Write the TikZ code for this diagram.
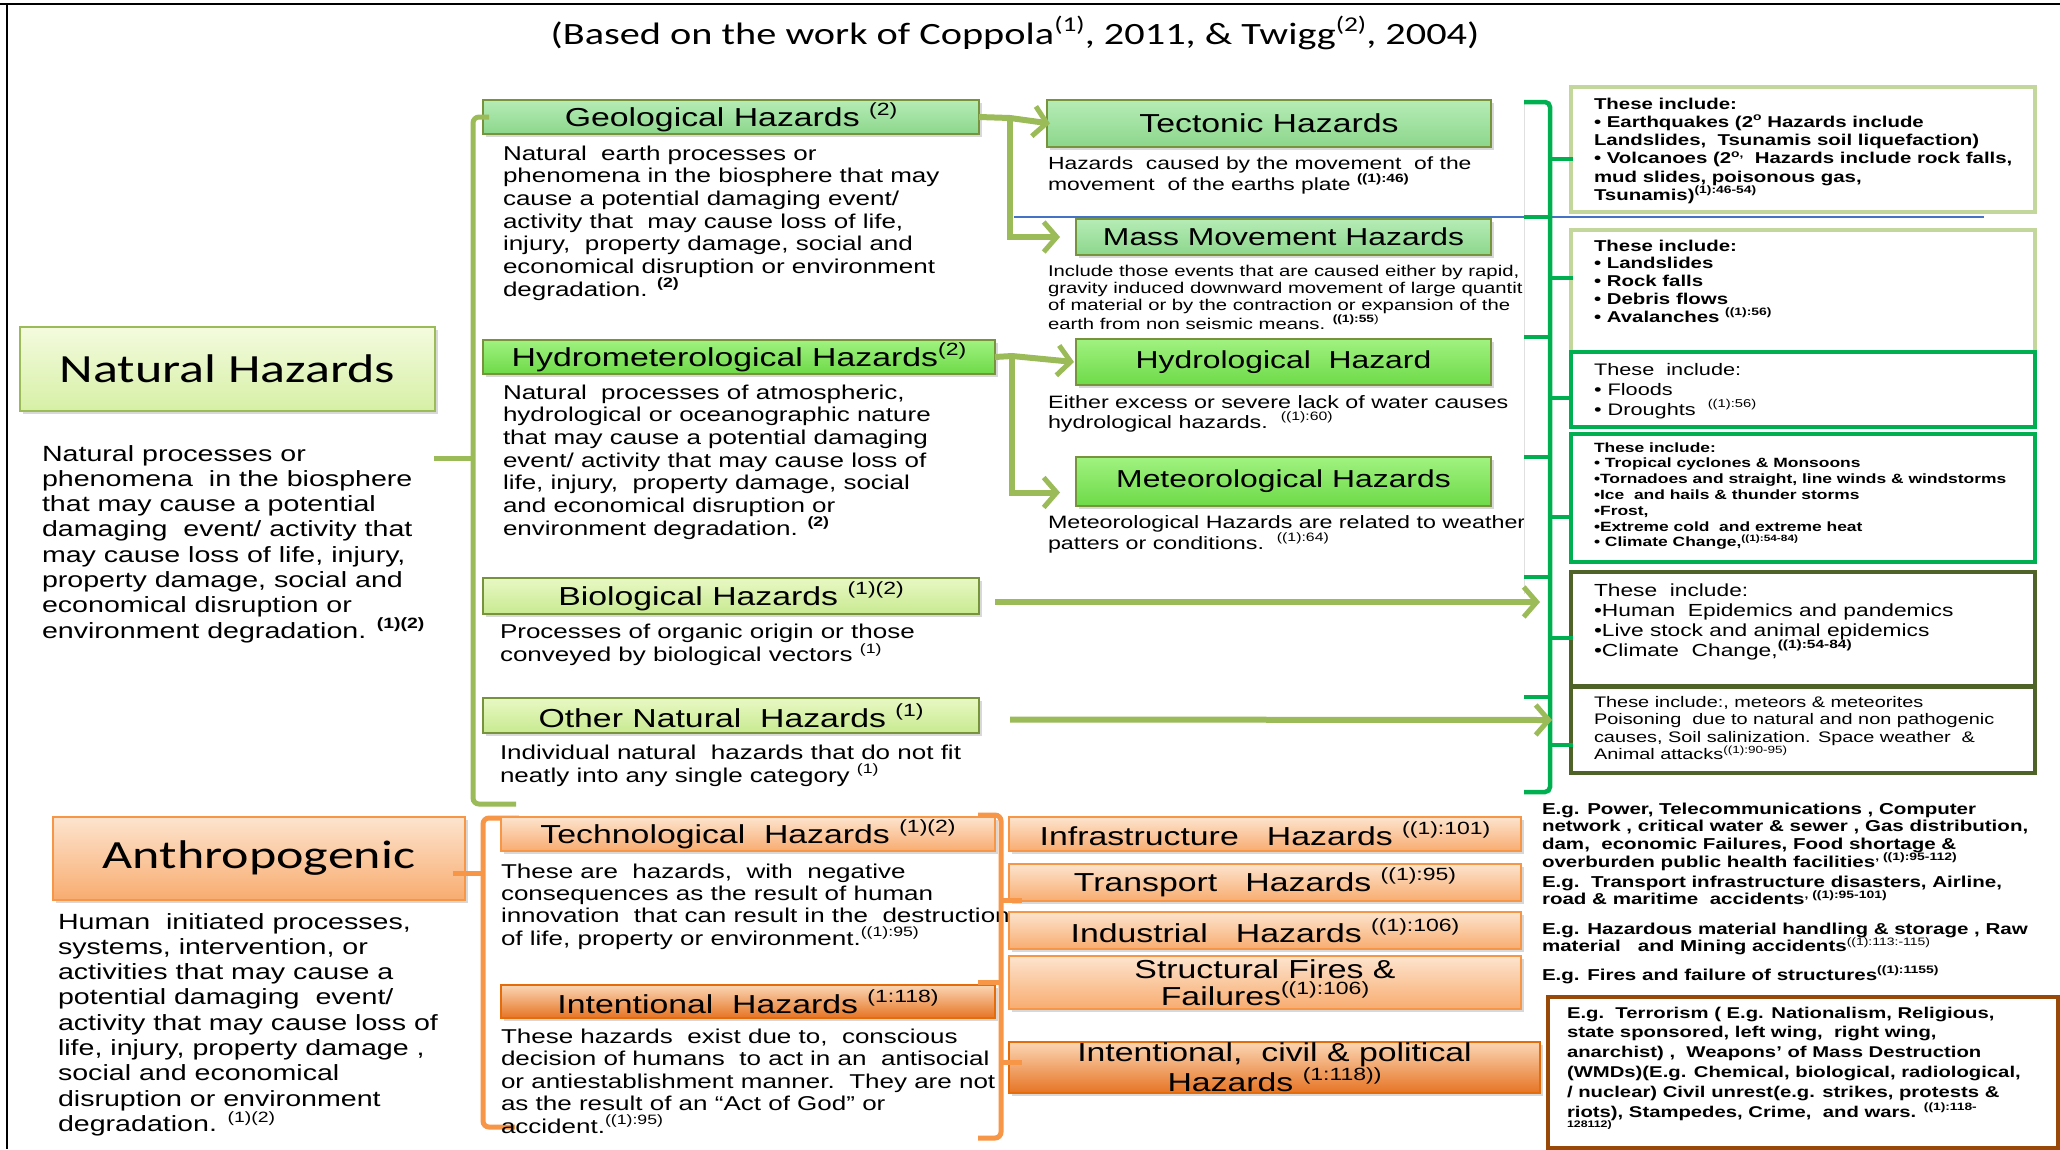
\documentclass[tikz,border=0pt]{standalone}
\usepackage{fontspec}
\setmainfont{Liberation Sans}[FakeStretch=1.3]
\newfontfamily\calib{Carlito}[FakeStretch=1.3]
\usepackage{graphicx}
\usetikzlibrary{arrows.meta,shadows}

\definecolor{olv}{HTML}{9BBB59}
\definecolor{olvdark}{HTML}{77933C}
\definecolor{brgreen}{HTML}{00B050}
\definecolor{darkolv}{HTML}{4F6228}
\definecolor{lightolv}{HTML}{C3D69B}
\definecolor{orng}{HTML}{F79646}
\definecolor{orngdark}{HTML}{E46C0A}
\definecolor{brownb}{HTML}{984807}
\definecolor{bluel}{HTML}{4472C4}

\newcommand\fz[2]{\fontsize{#1}{#2}\selectfont}
\newcommand\sps[1]{\raisebox{0.42em}{\scalebox{0.68}{#1}}}
\newcommand\para[1]{\parbox[t]{800pt}{\raggedright #1}}
\newcommand\bul{\textbullet}

\begin{document}
\begin{tikzpicture}[x=1pt,y=-1pt,
  box/.style={anchor=north west, inner sep=0pt, outer sep=0pt, line width=2.5pt, align=center,
    drop shadow={shadow xshift=3pt, shadow yshift=-3pt, opacity=0.3}},
  geobox/.style={box, draw=olvdark, top color={rgb,255:red,182;green,236;blue,182}, bottom color={rgb,255:red,140;green,214;blue,140}},
  hmbox/.style={box, draw=olvdark, top color={rgb,255:red,160;green,242;blue,128}, bottom color={rgb,255:red,110;green,218;blue,72}},
  biobox/.style={box, draw=olvdark, top color={rgb,255:red,232;green,248;blue,196}, bottom color={rgb,255:red,200;green,234;blue,144}},
  natbox/.style={box, draw=olv, top color={rgb,255:red,244;green,251;blue,222}, bottom color={rgb,255:red,214;green,240;blue,166}},
  obox/.style={box, draw=orng, top color={rgb,255:red,253;green,228;blue,206}, bottom color={rgb,255:red,248;green,172;blue,112}},
  odbox/.style={box, draw=orngdark, top color={rgb,255:red,251;green,214;blue,180}, bottom color={rgb,255:red,230;green,116;blue,36}},
  side/.style={anchor=north west, inner sep=0pt, outer sep=0pt, fill=white, line width=4.5pt, minimum width=464pt},
  desc/.style={anchor=base west, inner sep=0pt, outer sep=0pt},
  arr/.style={draw=olv, line width=6pt, -{Straight Barb[length=13pt,width=30pt,line width=5pt]}},
  brk/.style={draw=olv, line width=5pt, rounded corners=6pt},
  obrk/.style={draw=orng, line width=5pt, rounded corners=6pt},
  gbrk/.style={draw=brgreen, line width=4.5pt, rounded corners=5pt}
]
\useasboundingbox (0,0) rectangle (2060,1149);
\fill[white] (0,0) rectangle (2060,1149);

% outer frame
\draw[line width=2pt] (0,4) -- (2060,4);
\draw[line width=2pt] (7,4) -- (7,1149);

% heading
\node[font=\calib\fz{31}{34}] (title) at (1015,33)
  {(Based on the work of Coppola\sps{(1)}, 2011, \& Twigg\sps{(2)}, 2004)};

% ---------- natural hazards ----------
\node[natbox, minimum width=415pt, minimum height=84pt, font=\calib\fz{40}{44}] (nat) at (20,327) {Natural Hazards};
\node[desc, font=\fz{22}{25.3}] (natd) at (42,461) {\para{Natural processes or\\
phenomena\ \ in the biosphere\\
that may cause a potential\\
damaging\ \ event/ activity that\\
may cause loss of life, injury,\\
property damage, social and\\
economical disruption or\\
environment degradation. \sps{\bfseries (1)(2)}}};

% first level boxes
\node[geobox, minimum width=496pt, minimum height=34pt, font=\fz{26}{28}] (geo) at (483,100) {Geological Hazards \sps{(2)}};
\node[hmbox, minimum width=512pt, minimum height=34pt, font=\fz{26}{28}] (hm) at (483,340) {Hydrometerological Hazards\sps{(2)}};
\node[biobox, minimum width=496pt, minimum height=36pt, font=\fz{26}{28}] (bio) at (483,578) {Biological Hazards \sps{(1)(2)}};
\node[biobox, minimum width=496pt, minimum height=35pt, font=\fz{26}{28}] (oth) at (483,698) {Other Natural\ \ Hazards \sps{(1)}};

% bracket grouping the natural categories
\coordinate (nb) at (473,458);
\coordinate (nattick) at (434,458);
\draw[brk] ([xshift=6pt]geo.west) -| (nb) |- (516,804);
\draw[brk] (nattick) -- (nb);

\node[desc, font=\fz{20}{22.7}] (geod) at (503,160) {\para{Natural\ \ earth processes or\\
phenomena in the biosphere that may\\
cause a potential damaging event/\\
activity that\ \ may cause loss of life,\\
injury,\ \ property damage, social and\\
economical disruption or environment\\
degradation. \sps{\bfseries (2)}}};
\node[desc, font=\fz{20}{22.7}] (hmd) at (503,399) {\para{Natural\ \ processes of atmospheric,\\
hydrological or oceanographic nature\\
that may cause a potential damaging\\
event/ activity that may cause loss of\\
life, injury,\ \ property damage, social\\
and economical disruption or\\
environment degradation. \sps{\bfseries (2)}}};
\node[desc, font=\fz{20}{21.5}] (biod) at (500,638) {\para{Processes of organic origin or those\\
conveyed by biological vectors \sps{(1)}}};
\node[desc, font=\fz{20}{23}] (othd) at (500,759) {\para{Individual natural\ \ hazards that do not fit\\
neatly into any single category \sps{(1)}}};

% second level boxes
\node[geobox, minimum width=444pt, minimum height=47pt, font=\fz{26}{28}] (tec) at (1047,100) {Tectonic Hazards};
\node[geobox, minimum width=415pt, minimum height=36pt, font=\fz{24.5}{27}] (mass) at (1076,219) {Mass Movement Hazards};
\node[hmbox, minimum width=415pt, minimum height=46pt, font=\fz{24.5}{27}] (hydl) at (1076,339) {Hydrological\ \ Hazard};
\node[hmbox, minimum width=415pt, minimum height=49pt, font=\fz{24.5}{27}] (met) at (1076,457) {Meteorological Hazards};

\node[desc, font=\fz{17.6}{21}] (tecd) at (1048,169) {\para{Hazards\ \ caused by the movement\ \ of the\\
movement\ \ of the earths plate \sps{\bfseries ((1):46)}}};
\node[desc, font=\fz{15.6}{17.3}] (massd) at (1048,276) {\para{Include those events that are caused either by rapid,\\
gravity induced downward movement of large quantit\\
of material or by the contraction or expansion of the\\
earth from non seismic means. \sps{\bfseries ((1):55}\sps{)}}};
\node[desc, font=\fz{17.9}{20}] (hydld) at (1048,408) {\para{Either excess or severe lack of water causes\\
hydrological hazards.\ \ \sps{((1):60)}}};
\node[desc, font=\fz{17.9}{21}] (metd) at (1048,528) {\para{Meteorological Hazards are related to weather\\
patters or conditions.\ \ \sps{((1):64)}}};

% arrows from the first to the second level
\coordinate (gsplit) at (1010,118);
\coordinate (hsplit) at (1012,356);
\draw[arr] (geo.east) -- (gsplit) -- ([xshift=3pt]tec.west);
\draw[arr] (gsplit) |- ([xshift=-16pt]mass.west);
\draw[arr] (hm.east) -- (hsplit) -- ([xshift=-2pt]hydl.west);
\draw[arr] (hsplit) |- ([xshift=-16pt,yshift=-11pt]met.west);

% divider line
\draw[bluel, line width=1.2pt] (1014,217) -- (1984,217);
\draw[black!12, line width=1pt] (1524,102) -- (1524,594);

% example boxes
\node[side, draw=lightolv, minimum height=125pt] (s1) at (1571,87) {};
\node[side, draw=lightolv, minimum height=122pt] (s2) at (1571,230) {};
\node[side, draw=brgreen, minimum height=75pt] (s3) at (1571,352) {};
\node[side, draw=brgreen, minimum height=128pt] (s4) at (1571,434) {};
\node[side, draw=darkolv, minimum height=114pt] (s5) at (1571,572) {};
\node[side, draw=darkolv, minimum height=86pt] (s6) at (1571,687) {};

\node[desc, font=\bfseries\fz{15.7}{18.3}] (s1t) at (1594,109) {\para{These include:\\
\bul{} Earthquakes (2\sps{o} Hazards include\\
Landslides,\ \ Tsunamis soil liquefaction)\\
\bul{} Volcanoes (2\sps{o,}\ \ Hazards include rock falls,\\
mud slides, poisonous gas,\\
Tsunamis)\sps{(1):46-54)}}};
\node[desc, font=\bfseries\fz{15.7}{17.8}] (s2t) at (1594,251) {\para{These include:\\
\bul{} Landslides\\
\bul{} Rock falls\\
\bul{} Debris flows\\
\bul{} Avalanches \sps{((1):56)}}};
\node[desc, font=\fz{16.7}{20}] (s3t) at (1594,375) {\para{These\ \ include:\\
\bul{} Floods\\
\bul{} Droughts\ \ \sps{((1):56)}}};
\node[desc, font=\bfseries\fz{13.4}{15.8}] (s4t) at (1594,452) {\para{These include:\\
\bul{} Tropical cyclones \& Monsoons\\
\bul{}Tornadoes and straight, line winds \& windstorms\\
\bul{}Ice\ \ and hails \& thunder storms\\
\bul{}Frost,\\
\bul{}Extreme cold\ \ and extreme heat\\
\bul{} Climate Change,\sps{((1):54-84)}}};
\node[desc, font=\fz{17.5}{20}] (s5t) at (1594,596) {\para{These\ \ include:\\
\bul{}Human\ \ Epidemics and pandemics\\
\bul{}Live stock and animal epidemics\\
\bul{}Climate\ \ Change,\sps{\bfseries ((1):54-84)}}};
\node[desc, font=\fz{15.3}{17.5}] (s6t) at (1594,707) {\para{These include:, meteors \& meteorites\\
Poisoning\ \ due to natural and non pathogenic\\
causes, Soil salinization. Space weather\ \ \&\\
Animal attacks\sps{((1):90-95)}}};

% brace chain in front of the example boxes
\draw[gbrk] (1524,102) -- (1550,102) -- (1550,792) -- (1524,792);
\foreach \yy in {217,337,457,577,697} \draw[gbrk] (1524,\yy) -- (1550,\yy);
\foreach \yy in {159,278,398,517,638,745} \draw[gbrk] (1550,\yy) -- (1573,\yy);

% arrows of the categories without subdivisions
\coordinate (bioend) at (1540,602);
\coordinate (othend) at (1552,720);
\draw[arr] ([xshift=16pt,yshift=-6pt]bio.east) -- (bioend);
\draw[arr] ([xshift=31pt,yshift=-4pt]oth.east) -- (othend);

% ---------- anthropogenic hazards ----------
\node[obox, minimum width=412pt, minimum height=83pt, font=\calib\fz{40}{44}] (anth) at (53,817) {Anthropogenic};
\node[desc, font=\fz{22}{25.3}] (anthd) at (58,929) {\para{Human\ \ initiated processes,\\
systems, intervention, or\\
activities that may cause a\\
potential damaging\ \ event/\\
activity that may cause loss of\\
life, injury, property damage ,\\
social and economical\\
disruption or environment\\
degradation. \sps{(1)(2)}}};

\coordinate (ab) at (483,873);
\draw[obrk] (519,818) -| (ab) |- (515,1127);
\draw[obrk] ([xshift=-12pt]anth.east |- ab) -- (ab);

\node[obox, minimum width=494pt, minimum height=34pt, font=\fz{26}{28}] (tech) at (501,817) {Technological\ \ Hazards \sps{(1)(2)}};
\node[odbox, minimum width=494pt, minimum height=33pt, font=\fz{26}{28}] (intl) at (501,985) {Intentional\ \ Hazards \sps{(1:118)}};
\node[desc, font=\fz{20}{22.4}] (techd) at (501,878) {\para{These are\ \ hazards,\ \ with\ \ negative\\
consequences as the result of human\\
innovation\ \ that can result in the\ \ destruction\\
of life, property or environment.\sps{((1):95)}}};
\node[desc, font=\fz{20}{22.5}] (intld) at (501,1043) {\para{These hazards\ \ exist due to,\ \ conscious\\
decision of humans\ \ to act in an\ \ antisocial\\
or antiestablishment manner.\ \ They are not\\
as the result of an ``Act of God'' or\\
accident.\sps{((1):95)}}};

% brace pair leading to the sub-types
\draw[obrk] (978,815) -- (1001,815) -- (1001,1138) -- (978,1138);
\draw[obrk] (978,982) -- (1001,982);

\node[obox, minimum width=512pt, minimum height=34pt, font=\fz{26}{28}] (infra) at (1009,817) {Infrastructure\ \ \ Hazards \sps{((1):101)}};
\node[obox, minimum width=512pt, minimum height=37pt, font=\fz{26}{28}] (trans) at (1009,864) {Transport\ \ \ Hazards \sps{((1):95)}};
\node[obox, minimum width=512pt, minimum height=37pt, font=\fz{26}{28}] (indu) at (1009,912) {Industrial\ \ \ Hazards \sps{((1):106)}};
\node[obox, minimum width=512pt, minimum height=53pt, font=\fz{26}{27}] (stru) at (1009,956) {Structural Fires \&\\Failures\sps{((1):106)}};
\node[odbox, minimum width=531pt, minimum height=51pt, font=\fz{26}{29}] (civ) at (1009,1042) {Intentional,\ \ civil \& political\\Hazards \sps{(1:118))}};

\draw[obrk] (1001,900) -- (1022,900);
\draw[obrk] (1001,1062) -- (1022,1062);

\node[desc, font=\bfseries\fz{15.8}{17.8}] (eg1) at (1542,814) {\para{E.g. Power, Telecommunications , Computer\\
network , critical water \& sewer , Gas distribution,\\
dam,\ \ economic Failures, Food shortage \&\\
overburden public health facilities\sps{, ((1):95-112)}}};
\node[desc, font=\bfseries\fz{15.8}{17.8}] (eg2) at (1542,887) {\para{E.g.\ \ Transport infrastructure disasters, Airline,\\
road \& maritime\ \ accidents\sps{, ((1):95-101)}}};
\node[desc, font=\bfseries\fz{15.8}{17.8}] (eg3) at (1542,934) {\para{E.g. Hazardous material handling \& storage , Raw\\
material\ \ \ and Mining accidents\sps{\mdseries ((1):113:-115)}}};
\node[desc, font=\bfseries\fz{15.8}{17.8}] (eg4) at (1542,980) {\para{E.g. Fires and failure of structures\sps{((1):1155)}}};

\node[anchor=north west, inner sep=0pt, draw=brownb, line width=4pt, fill=white, minimum width=510pt, minimum height=151pt] (terr) at (1546,995) {};
\node[desc, font=\bfseries\fz{15.6}{19.8}] (terrt) at (1567,1018) {\para{E.g.\ \ Terrorism ( E.g. Nationalism, Religious,\\
state sponsored, left wing,\ \ right wing,\\
anarchist) ,\ \ Weapons' of Mass Destruction\\
(WMDs)(E.g. Chemical, biological, radiological,\\
/ nuclear) Civil unrest(e.g. strikes, protests \&\\
riots), Stampedes, Crime,\ \ and wars. \sps{((1):118-}\\[-9pt]
{\fz{9.5}{10}128112)}}};
\end{tikzpicture}
\end{document}
